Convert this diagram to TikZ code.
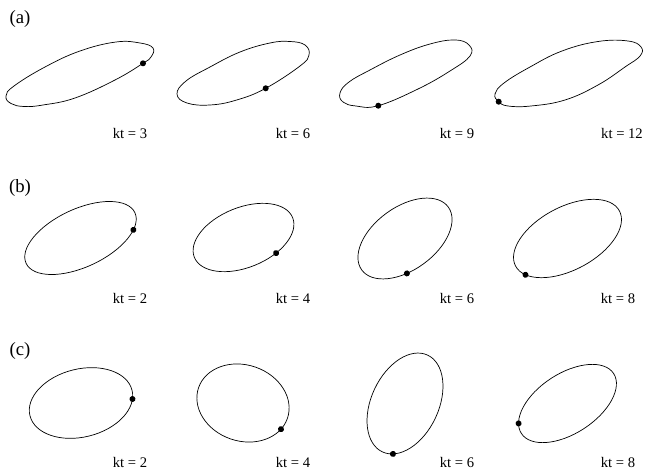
\documentclass[tikz,border=0pt]{standalone}
\usepackage{fontspec}
\setmainfont{Liberation Serif}
\usepackage{tikz}
\tikzset{
  orbit/.style={draw=black,line width=0.6pt},
  marker/.style={fill=black},
  ktlabel/.style={font=\fontsize{12.5}{14}\selectfont,inner sep=0pt,anchor=base},
  panellabel/.style={font=\fontsize{16}{18}\selectfont,inner sep=0pt}
}
% droplet: centre x, centre y, tilt, long radius, short radius, angle of the dot
\newcommand{\droplet}[6]{%
  \begin{scope}[shift={(#1,#2)},rotate=#3]
    \draw[orbit] (0,0) ellipse[x radius=#4,y radius=#5];
    \fill[marker] (#6:#4 and #5) circle (3);
  \end{scope}}

\begin{document}
\begin{tikzpicture}[x=0.3mm,y=-0.3mm]
  \useasboundingbox (0,0) rectangle (646,471);
  % row (a)
  \node[panellabel] (pa) at (20,19) {(a)};
  \draw[orbit] plot[smooth cycle,tension=0.7] coordinates {(6,96) (14,86) (45,67) (80,51) (116,42) (140,43) (153,48) (151,57) (143,63.3) (115,80) (75,98) (43,105) (24,106.5) (11,103.5)};
  \fill[marker] (143,63.3) circle (3);
  \draw[orbit] plot[smooth cycle,tension=0.7] coordinates {(177,94) (186,81) (210,67) (240,52) (270,43) (290,41.5) (305,45) (309,55) (300,66) (265.7,88.3) (236.7,100) (210,105) (187,103)};
  \fill[marker] (265.7,88.3) circle (3);
  \draw[orbit] plot[smooth cycle,tension=0.7] coordinates {(340,93) (349,82) (370,70) (400,55) (430,44) (455,40) (469,45) (470,56) (450,71) (418,89) (378.3,105.7) (356,106) (343,102)};
  \fill[marker] (378.3,105.7) circle (3);
  \draw[orbit] plot[smooth cycle,tension=0.7] coordinates {(498.7,101.7) (495,94) (504,83) (530,67) (562,51) (598,41.5) (628,41) (641,47) (640,56) (625,67) (598,85) (565,100) (531,106) (508,106)};
  \fill[marker] (498.7,101.7) circle (3);
  \node[ktlabel] (a1) at (130,139) {kt = 3};
  \node[ktlabel] (a2) at (293,139) {kt = 6};
  \node[ktlabel] (a3) at (457,139) {kt = 9};
  \node[ktlabel] (a4) at (622,139) {kt = 12};
  % row (b)
  \node[panellabel] (pb) at (20,188) {(b)};
  \droplet{80.5}{238}{25}{60}{29}{31}
  \droplet{243.5}{237.5}{22}{53}{30}{62.6}
  \droplet{405}{238.5}{36}{53.5}{31.4}{110.8}
  \droplet{567.5}{238.5}{28}{58.8}{31.5}{157}
  \node[ktlabel] (b1) at (130,303) {kt = 2};
  \node[ktlabel] (b2) at (293,303) {kt = 4};
  \node[ktlabel] (b3) at (457,303) {kt = 6};
  \node[ktlabel] (b4) at (618,303) {kt = 8};
  % row (c)
  \node[panellabel] (pc) at (20,351) {(c)};
  \droplet{81}{403}{14}{52.6}{34}{14.6}
  \droplet{243}{403}{-19}{47}{38}{19}
  \droplet{405}{403.5}{65}{53.4}{33.7}{162}
  \droplet{567.5}{403.5}{33}{55}{30}{-160.6}
  \node[ktlabel] (c1) at (130,467) {kt = 2};
  \node[ktlabel] (c2) at (293,467) {kt = 4};
  \node[ktlabel] (c3) at (457,467) {kt = 6};
  \node[ktlabel] (c4) at (618,467) {kt = 8};
\end{tikzpicture}
\end{document}
